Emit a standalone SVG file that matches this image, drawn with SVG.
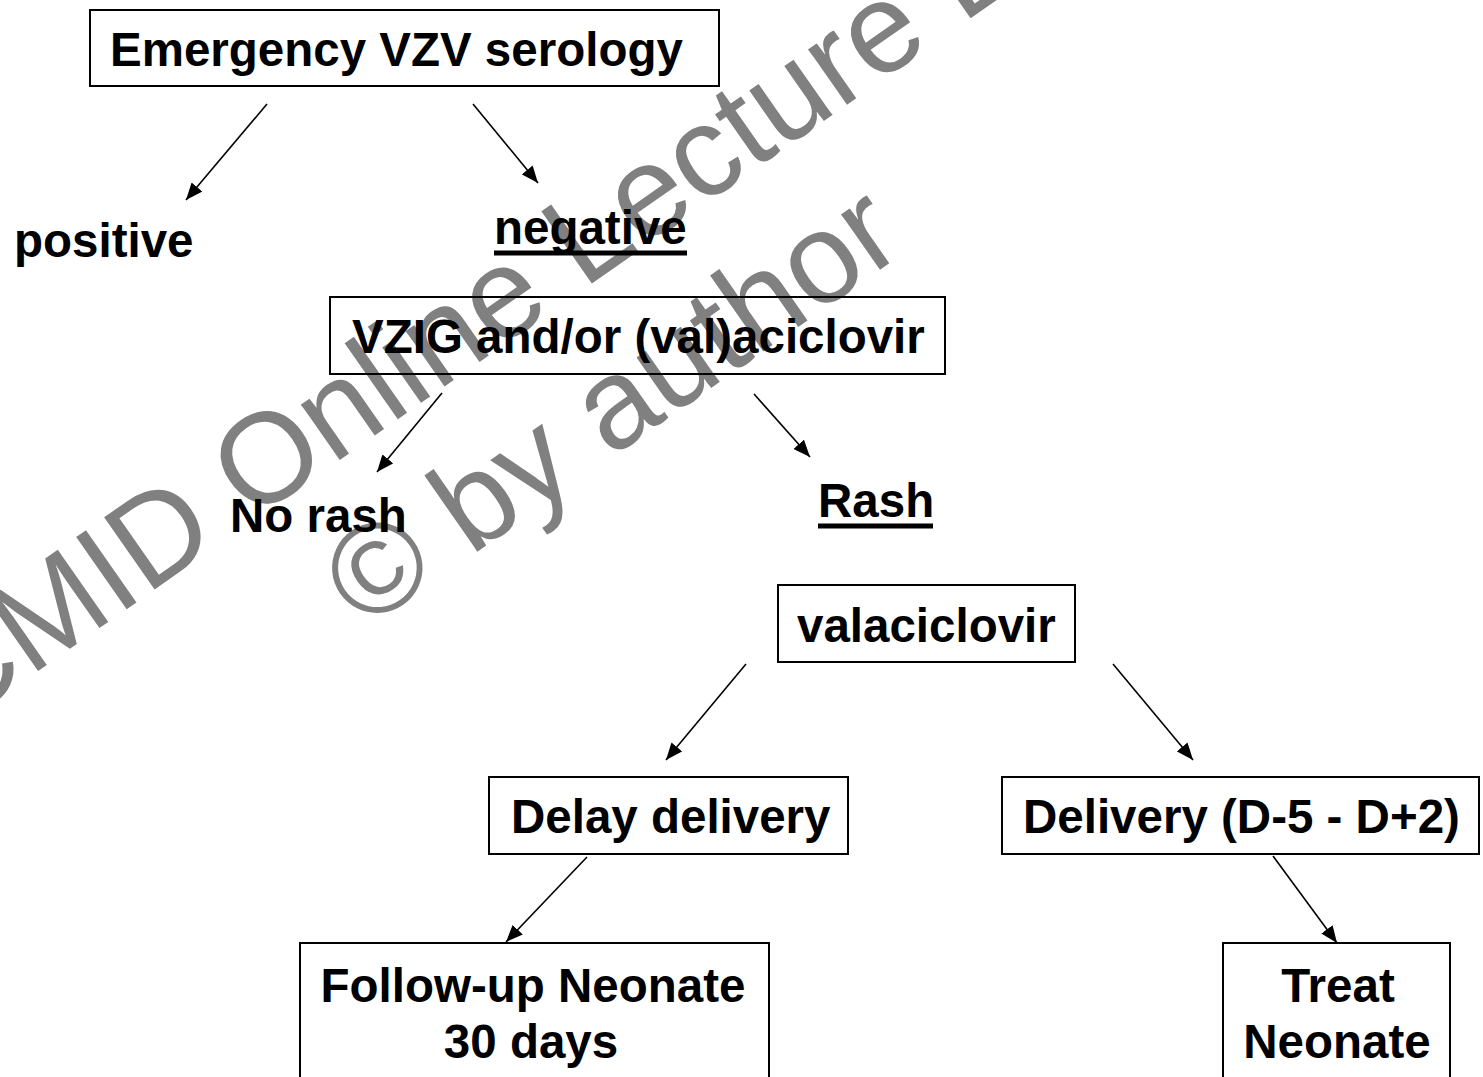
<svg xmlns="http://www.w3.org/2000/svg" width="1483" height="1077" viewBox="0 0 1483 1077">
  <style>
    .wm { font-family: "Liberation Sans", Arial, sans-serif; font-size: 128px; fill: #808080; }
    .box { fill: none; stroke: #000; stroke-width: 2; }
    .t { font-family: "Liberation Sans", Arial, sans-serif; font-weight: bold; font-size: 47.5px; fill: #000; }
    .c { text-anchor: middle; }
    .ul { stroke: #000; stroke-width: 5; }
    .conn line { stroke: #000; stroke-width: 1.6; marker-end: url(#arrow); }
  </style>
  <defs>
    <marker id="arrow" markerUnits="userSpaceOnUse" markerWidth="18" markerHeight="14" refX="17" refY="7" orient="auto">
      <path d="M0,0 L17,7 L0,14 Z" fill="#000"/>
    </marker>
  </defs>
  <rect width="1483" height="1077" fill="#fff"/>

  <g id="watermark">
    <text class="wm" transform="translate(-186,828) rotate(-35)">ESCMID Online Lecture Library</text>
    <text class="wm" transform="translate(364,631) rotate(-35)">© by author</text>
  </g>

  <g id="connectors" class="conn">
    <line x1="267" y1="104" x2="186" y2="200"/>
    <line x1="473" y1="104" x2="538" y2="183"/>
    <line x1="442" y1="393" x2="377" y2="472"/>
    <line x1="754" y1="394" x2="810" y2="457"/>
    <line x1="746" y1="664" x2="666" y2="760"/>
    <line x1="1113" y1="664" x2="1193" y2="760"/>
    <line x1="587" y1="857" x2="506" y2="942"/>
    <line x1="1273" y1="856" x2="1337" y2="943"/>
  </g>

  <g id="n-serology">
    <rect class="box" x="90" y="10" width="629" height="76"/>
    <text class="t" x="110" y="66">Emergency VZV serology</text>
  </g>
  <g id="n-positive">
    <text class="t" x="14" y="257">positive</text>
  </g>
  <g id="n-negative">
    <text class="t" x="494" y="244">negative</text>
    <line class="ul" x1="494" y1="253" x2="687" y2="253"/>
  </g>
  <g id="n-vzig">
    <rect class="box" x="330" y="297" width="615" height="77"/>
    <text class="t" x="352" y="353">VZIG and/or (val)aciclovir</text>
  </g>
  <g id="n-norash">
    <text class="t" x="230" y="532">No rash</text>
  </g>
  <g id="n-rash">
    <text class="t" x="818" y="517">Rash</text>
    <line class="ul" x1="818" y1="526" x2="933" y2="526"/>
  </g>
  <g id="n-valaciclovir">
    <rect class="box" x="778" y="585" width="297" height="77"/>
    <text class="t" x="797" y="642">valaciclovir</text>
  </g>
  <g id="n-delay">
    <rect class="box" x="489" y="777" width="359" height="77"/>
    <text class="t" x="511" y="833">Delay delivery</text>
  </g>
  <g id="n-delivery">
    <rect class="box" x="1002" y="777" width="477" height="77"/>
    <text class="t" x="1023" y="833">Delivery (D-5 - D+2)</text>
  </g>
  <g id="n-followup">
    <rect class="box" x="300" y="943" width="469" height="150"/>
    <text class="t c" x="533" y="1002">Follow-up Neonate</text>
    <text class="t c" x="531" y="1058">30 days</text>
  </g>
  <g id="n-treat">
    <rect class="box" x="1223" y="943" width="227" height="150"/>
    <text class="t c" x="1338" y="1002">Treat</text>
    <text class="t c" x="1337" y="1058">Neonate</text>
  </g>
</svg>
